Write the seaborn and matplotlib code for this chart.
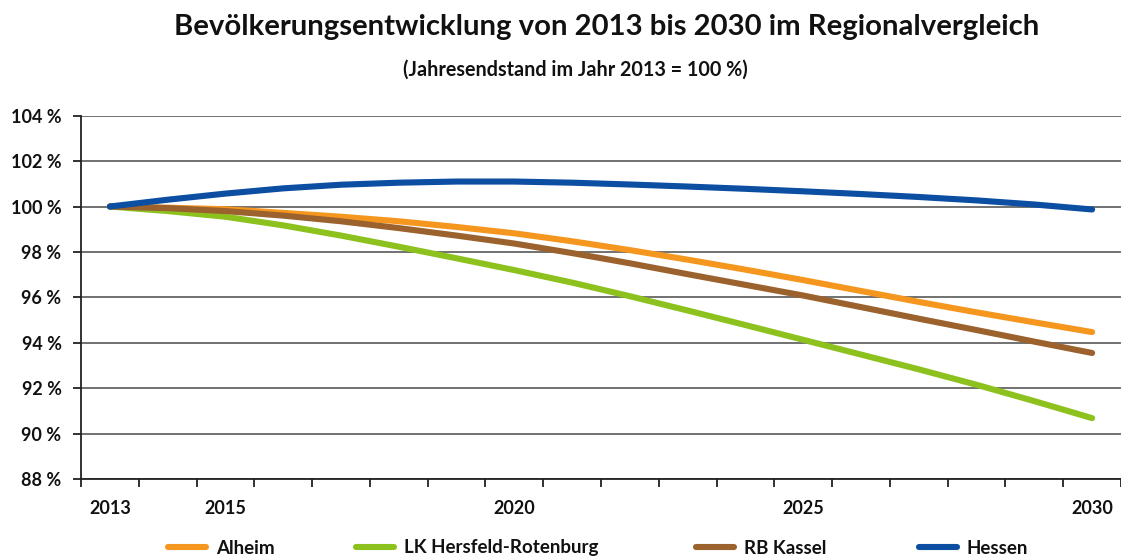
import matplotlib
matplotlib.use("Agg")
import matplotlib.pyplot as plt
import seaborn as sns
import pandas as pd

# Population index per year, 2013 = 100 %
years = list(range(2013, 2031))
alheim = [100.0, 99.95, 99.88, 99.72, 99.55, 99.35, 99.1, 98.82, 98.47, 98.08,
          97.66, 97.22, 96.76, 96.28, 95.8, 95.34, 94.9, 94.47]
lk_hersfeld = [100.0, 99.8, 99.55, 99.17, 98.72, 98.23, 97.72, 97.2, 96.65, 96.05,
               95.42, 94.78, 94.13, 93.48, 92.83, 92.15, 91.43, 90.68]
rb_kassel = [100.0, 99.93, 99.8, 99.6, 99.35, 99.05, 98.72, 98.37, 97.95, 97.5,
             97.02, 96.55, 96.08, 95.57, 95.06, 94.56, 94.05, 93.55]
hessen = [100.0, 100.3, 100.57, 100.8, 100.96, 101.05, 101.1, 101.1, 101.05, 100.97,
          100.88, 100.78, 100.67, 100.55, 100.42, 100.27, 100.09, 99.87]

series_names = ["Alheim", "LK Hersfeld-Rotenburg", "RB Kassel", "Hessen"]
series_values = [alheim, lk_hersfeld, rb_kassel, hessen]
colors = ["#F5961E", "#8CC11E", "#9B622D", "#0B4EA2"]

y_ticks = [88, 90, 92, 94, 96, 98, 100, 102, 104]
x_labels = [2013, 2015, 2020, 2025, 2030]

title = "Bevölkerungsentwicklung von 2013 bis 2030 im Regionalvergleich"
subtitle = "(Jahresendstand im Jahr 2013 = 100 %)"

df = pd.DataFrame(
    [(y, name, v) for name, vals in zip(series_names, series_values)
     for y, v in zip(years, vals)],
    columns=["Jahr", "Region", "Index"],
)

sns.set_style("white")
plt.rcParams["font.family"] = ["Lato", "DejaVu Sans"]
plt.rcParams["font.weight"] = "bold"
text_color = "#111111"

W, H = 1121, 556
fig = plt.figure(figsize=(W / 100, H / 100), dpi=100)
ax_left, ax_bottom, ax_top = 81 / W, 1 - 479 / H, 1 - 115.7 / H
ax = fig.add_axes([ax_left, ax_bottom, 1 - ax_left, ax_top - ax_bottom])

sns.lineplot(data=df, x="Jahr", y="Index", hue="Region", hue_order=series_names,
             palette=colors, linewidth=4.4, legend=False, ax=ax,
             solid_capstyle="round", solid_joinstyle="round", zorder=3)

px_per_year = 58.33
ax.set_xlim(2012.5, 2012.5 + (W - 81) / px_per_year)
ax.set_ylim(88, 104)

ax.set_yticks(y_ticks)
ax.set_yticklabels([f"{v} %" for v in y_ticks])
ax.set_xticks(x_labels)
ax.set_xticklabels([str(v) for v in x_labels])
ax.set_xticks([y - 0.5 for y in years] + [2030.5], minor=True)

ax.tick_params(axis="x", which="major", length=0, pad=15, labelsize=13,
               labelcolor=text_color)
ax.tick_params(axis="x", which="minor", length=6, width=1.3, color="#222222",
               direction="out", bottom=True)
ax.tick_params(axis="y", which="major", length=6, width=1.3, color="#222222",
               direction="out", pad=8, labelsize=13, labelcolor=text_color, left=True)

ax.grid(axis="y", color="#666666", linewidth=1.3, zorder=1)
ax.grid(axis="x", visible=False)
ax.set_axisbelow(True)
for side in ["top", "right"]:
    ax.spines[side].set_visible(False)
for side in ["left", "bottom"]:
    ax.spines[side].set_color("#222222")
    ax.spines[side].set_linewidth(1.3)
ax.set_xlabel("")
ax.set_ylabel("")

# Title and subtitle, sized to their measured widths
renderer = fig.canvas.get_renderer()

def fitted_text(x, y, s, width_px, size0):
    t = fig.text(x, y, s, ha="center", va="center", fontsize=size0,
                 fontweight="bold", color=text_color)
    w = t.get_window_extent(renderer).width
    t.set_fontsize(size0 * width_px / w)
    return t

fitted_text(607 / W, 1 - 27 / H, title, 866, 18)
fitted_text(575 / W, 1 - 70 / H, subtitle, 345, 10)

# One legend entry per series, each starting at its own x position
legend_x = [168, 356, 696, 919]
for line, name, x0 in zip(ax.get_lines(), series_names, legend_x):
    leg = fig.legend([line], [name], loc="center left",
                     bbox_to_anchor=(x0 / W, 1 - 548 / H), frameon=False,
                     fontsize=13.5, handlelength=2.05, handletextpad=0.5,
                     borderpad=0, borderaxespad=0)
    for h in leg.get_lines():
        h.set_linewidth(4.4)
        h.set_solid_capstyle("round")
    for t in leg.get_texts():
        t.set_color(text_color)

fig.savefig("out.png", dpi=100)
